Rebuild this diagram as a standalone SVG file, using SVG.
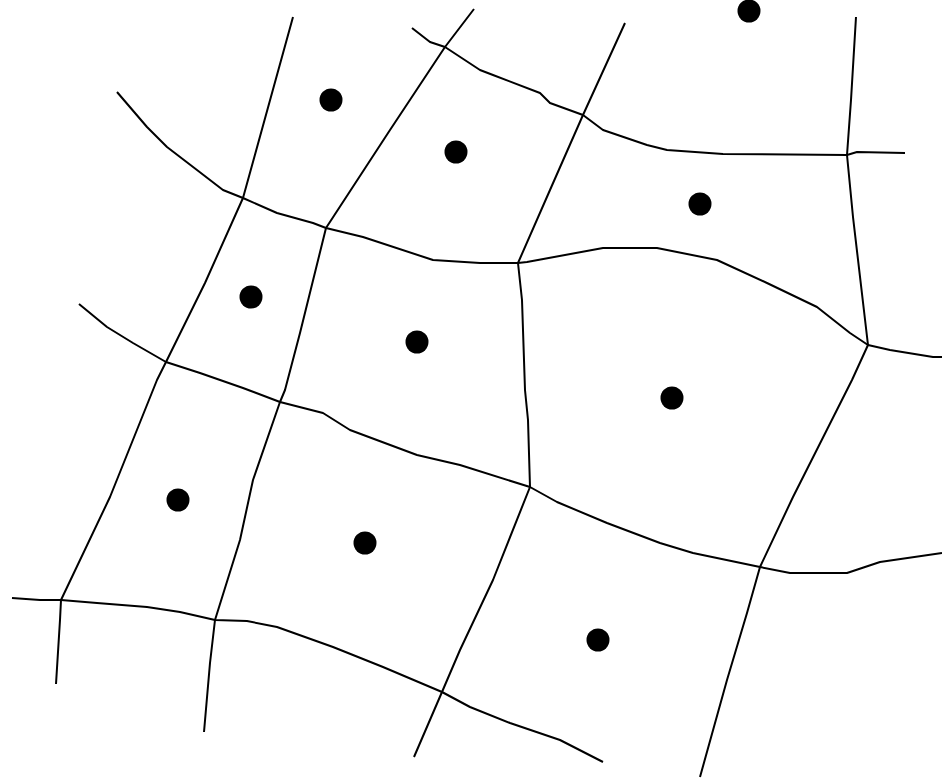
<svg xmlns="http://www.w3.org/2000/svg" width="942" height="779" viewBox="0 0 942 779">
<style>
.ln{fill:none;stroke:#000;stroke-width:2;stroke-linejoin:round;stroke-linecap:butt}
.dot{fill:#000}
</style>
<rect width="942" height="779" fill="#fff"/>
<g id="connectors">
<polyline class="ln" points="293,17 243,198 205,283 166,362 157,380 110,497 61,600 60,620 56,684"/>
<polyline class="ln" points="474,9 445,47 390,130 326,228 300,333 285,390 280,402 253,480 240,540 215,620 210,663 204,732"/>
<polyline class="ln" points="625,23 583,115 550,190 518,263 522,300 525,390 528,420 530,487 493,580 460,650 442,692 414,757"/>
<polyline class="ln" points="856,17 851,100 847,155 853,217 868,345 852,380 793,497 760,567 747,613 727,680 700,777"/>
<polyline class="ln" points="412,28 430,42 445,47 480,70 493,75 540,93 550,103 583,115 603,130 647,145 667,150 723,154 847,155 857,152 905,153"/>
<polyline class="ln" points="117,92 147,127 167,147 197,170 223,190 243,198 277,213 313,223 326,228 363,237 433,260 480,263 518,263 527,262 603,248 657,248 717,260 767,283 817,307 850,333 868,345 890,350 933,357 942,357"/>
<polyline class="ln" points="79,304 107,327 133,343 166,362 200,373 243,388 280,402 323,413 350,430 417,455 460,465 530,487 557,502 607,523 660,543 693,553 760,567 790,573 847,573 880,562 942,553"/>
<polyline class="ln" points="12,598 40,600 61,600 97,603 147,607 180,612 215,620 247,621 277,627 333,647 383,667 442,692 470,707 510,723 560,740 603,762"/>
</g>
<g id="d1"><circle class="dot" cx="749" cy="11" r="11.5"/></g>
<g id="d2"><circle class="dot" cx="331" cy="100" r="11.5"/></g>
<g id="d3"><circle class="dot" cx="456" cy="152" r="11.5"/></g>
<g id="d4"><circle class="dot" cx="700" cy="204" r="11.5"/></g>
<g id="d5"><circle class="dot" cx="251" cy="297" r="11.5"/></g>
<g id="d6"><circle class="dot" cx="417" cy="342" r="11.5"/></g>
<g id="d7"><circle class="dot" cx="672" cy="398" r="11.5"/></g>
<g id="d8"><circle class="dot" cx="178" cy="500" r="11.5"/></g>
<g id="d9"><circle class="dot" cx="365" cy="543" r="11.5"/></g>
<g id="d10"><circle class="dot" cx="598" cy="640" r="11.5"/></g>
</svg>
